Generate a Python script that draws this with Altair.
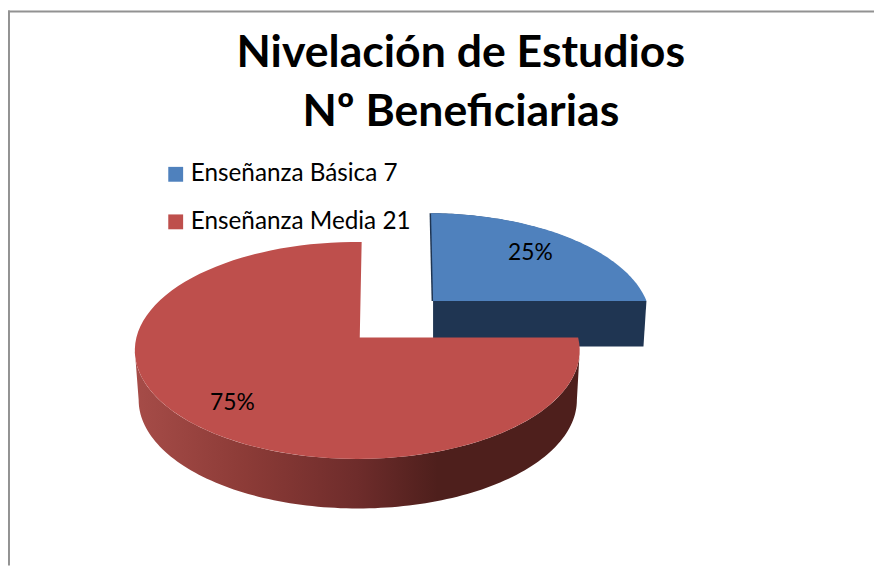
import math
import altair as alt

categories = ["Enseñanza Básica", "Enseñanza Media"]
beneficiarias = [7, 21]
title_lines = ["Nivelación de Estudios", "Nº Beneficiarias"]
colors = ["#4F81BD", "#BE4F4C"]

total = sum(beneficiarias)
shares = [v / total for v in beneficiarias]
legend_names = [f"{c} {v}" for c, v in zip(categories, beneficiarias)]

# Drawing geometry of the tilted pie, page pixels
ASPECT = 2.05
DEPTH_RED = 50
DEPTH_BLUE = 46
PIECES = [
    dict(apex=(437.0, 301.0), centre=(432.0, 322.0), skew=-0.023, label_drop=0),
    dict(apex=(363.0, 338.0), centre=(360.5, 351.0), skew=0.02, label_drop=4),
]
A, B = 224.5, 109.5


def rim(piece, t):
    """Where the ray of pie angle t (clockwise from the top) leaves the ellipse."""
    ax, ay = piece["apex"]
    cx, cy = piece["centre"]
    dx = ASPECT * math.sin(t) + piece["skew"] * math.cos(t)
    dy = -math.cos(t)
    ox, oy = (ax - cx) / A, (ay - cy) / B
    ux, uy = dx / A, dy / B
    a = ux * ux + uy * uy
    b = 2 * (ox * ux + oy * uy)
    c = ox * ox + oy * oy - 1
    k = (-b + math.sqrt(b * b - 4 * a * c)) / (2 * a)
    return ax + k * dx, ay + k * dy


def feature(name, ring):
    ring = [list(p) for p in ring]
    ring.append(ring[0])
    return {
        "type": "Feature",
        "properties": {"name": name},
        "geometry": {"type": "Polygon", "coordinates": [ring]},
    }


def wedge(piece, start, end, n=90, shift=0.0):
    pts = [rim(piece, start + (end - start) * i / n) for i in range(n + 1)]
    ring = [piece["apex"]] + pts
    return [(x + shift, y) for x, y in ring]


starts = [0.0, shares[0] * 2 * math.pi]
ends = [shares[0] * 2 * math.pi, 2 * math.pi]

wedges = [
    feature(n, wedge(p, s, e))
    for n, p, s, e in zip(legend_names, PIECES, starts, ends)
]

# Dark faces of the exploded blue slice
blue = PIECES[0]
corner = rim(blue, ends[0])
blue_front = feature(
    "front",
    [
        blue["apex"],
        corner,
        (corner[0] - 3, corner[1] + DEPTH_BLUE),
        (blue["apex"][0], blue["apex"][1] + DEPTH_BLUE),
    ],
)
blue_edge = feature("edge", wedge(blue, starts[0], ends[0], shift=-1.5))

# Outer wall of the red slice: front half of its ellipse, pushed down
cx, cy = PIECES[1]["centre"]
upper = [
    (cx + A * math.cos(math.pi * i / 120), cy + B * math.sin(math.pi * i / 120))
    for i in range(121)
]
lower = [(cx + 0.5 + (x - cx) * 0.985, y + DEPTH_RED) for x, y in reversed(upper)]
red_wall = feature("wall", upper + lower)

# Percent labels on each slice's bisector
labels = []
for piece, s, e, share in zip(PIECES, starts, ends, shares):
    px, py = rim(piece, (s + e) / 2)
    ax, ay = piece["apex"]
    labels.append(
        {
            "lon": ax + 0.74 * (px - ax),
            "lat": ay + 0.74 * (py - ay) + piece["label_drop"],
            "label": f"{share:.0%}",
        }
    )

projection = alt.Projection(type="identity", scale=1, translate=[-8, -8])

wall_fill = alt.Gradient(
    gradient="linear",
    x1=0,
    x2=1,
    y1=0,
    y2=0,
    stops=[
        alt.GradientStop(offset=0.0, color="#A64C48"),
        alt.GradientStop(offset=0.25, color="#8C3B37"),
        alt.GradientStop(offset=0.5, color="#6E2C2B"),
        alt.GradientStop(offset=0.68, color="#4E1F1C"),
        alt.GradientStop(offset=1.0, color="#4E1F1C"),
    ],
)

frame_left = alt.Chart(alt.Data(values=[{"a": 0}])).mark_rule(
    color="#929292", strokeWidth=2
).encode(x=alt.value(1))
frame_top = alt.Chart(alt.Data(values=[{"a": 0}])).mark_rule(
    color="#929292", strokeWidth=2
).encode(y=alt.value(1))

edge_layer = alt.Chart(alt.Data(values=[blue_edge])).mark_geoshape(
    fill="#1F3552", strokeWidth=0
)
front_layer = alt.Chart(alt.Data(values=[blue_front])).mark_geoshape(
    fill="#1F3552", strokeWidth=0
)
wall_layer = alt.Chart(alt.Data(values=[red_wall])).mark_geoshape(
    fill=wall_fill, strokeWidth=0
)
top_layer = alt.Chart(alt.Data(values=wedges)).mark_geoshape(strokeWidth=0).encode(
    color=alt.Color(
        "properties.name:N",
        scale=alt.Scale(domain=legend_names, range=colors),
        legend=alt.Legend(
            orient="none",
            legendX=157,
            legendY=153,
            title=None,
            symbolType="square",
            symbolSize=225,
            symbolStrokeWidth=0,
            labelFont="Lato",
            labelFontSize=24.5,
            labelColor="#000000",
            labelLimit=400,
            labelOffset=3,
            rowPadding=23,
        ),
    )
)
label_layer = alt.Chart(alt.Data(values=labels)).mark_text(
    font="Lato", fontSize=23, color="#000000"
).encode(longitude="lon:Q", latitude="lat:Q", text="label:N")

chart = (
    alt.layer(
        frame_left, frame_top, edge_layer, front_layer, wall_layer, top_layer, label_layer
    )
    .properties(
        width=874,
        height=560,
        padding=0,
        autosize=alt.AutoSizeParams(type="none"),
        projection=projection,
        title=alt.TitleParams(
            text=title_lines,
            font="Lato",
            fontWeight="bold",
            fontSize=45,
            lineHeight=60,
            color="#000000",
            anchor="middle",
            dx=20,
            dy=131,
        ),
    )
    .configure_view(stroke=None)
)

chart.save("out.html", embed_options={"renderer": "svg", "actions": False})
